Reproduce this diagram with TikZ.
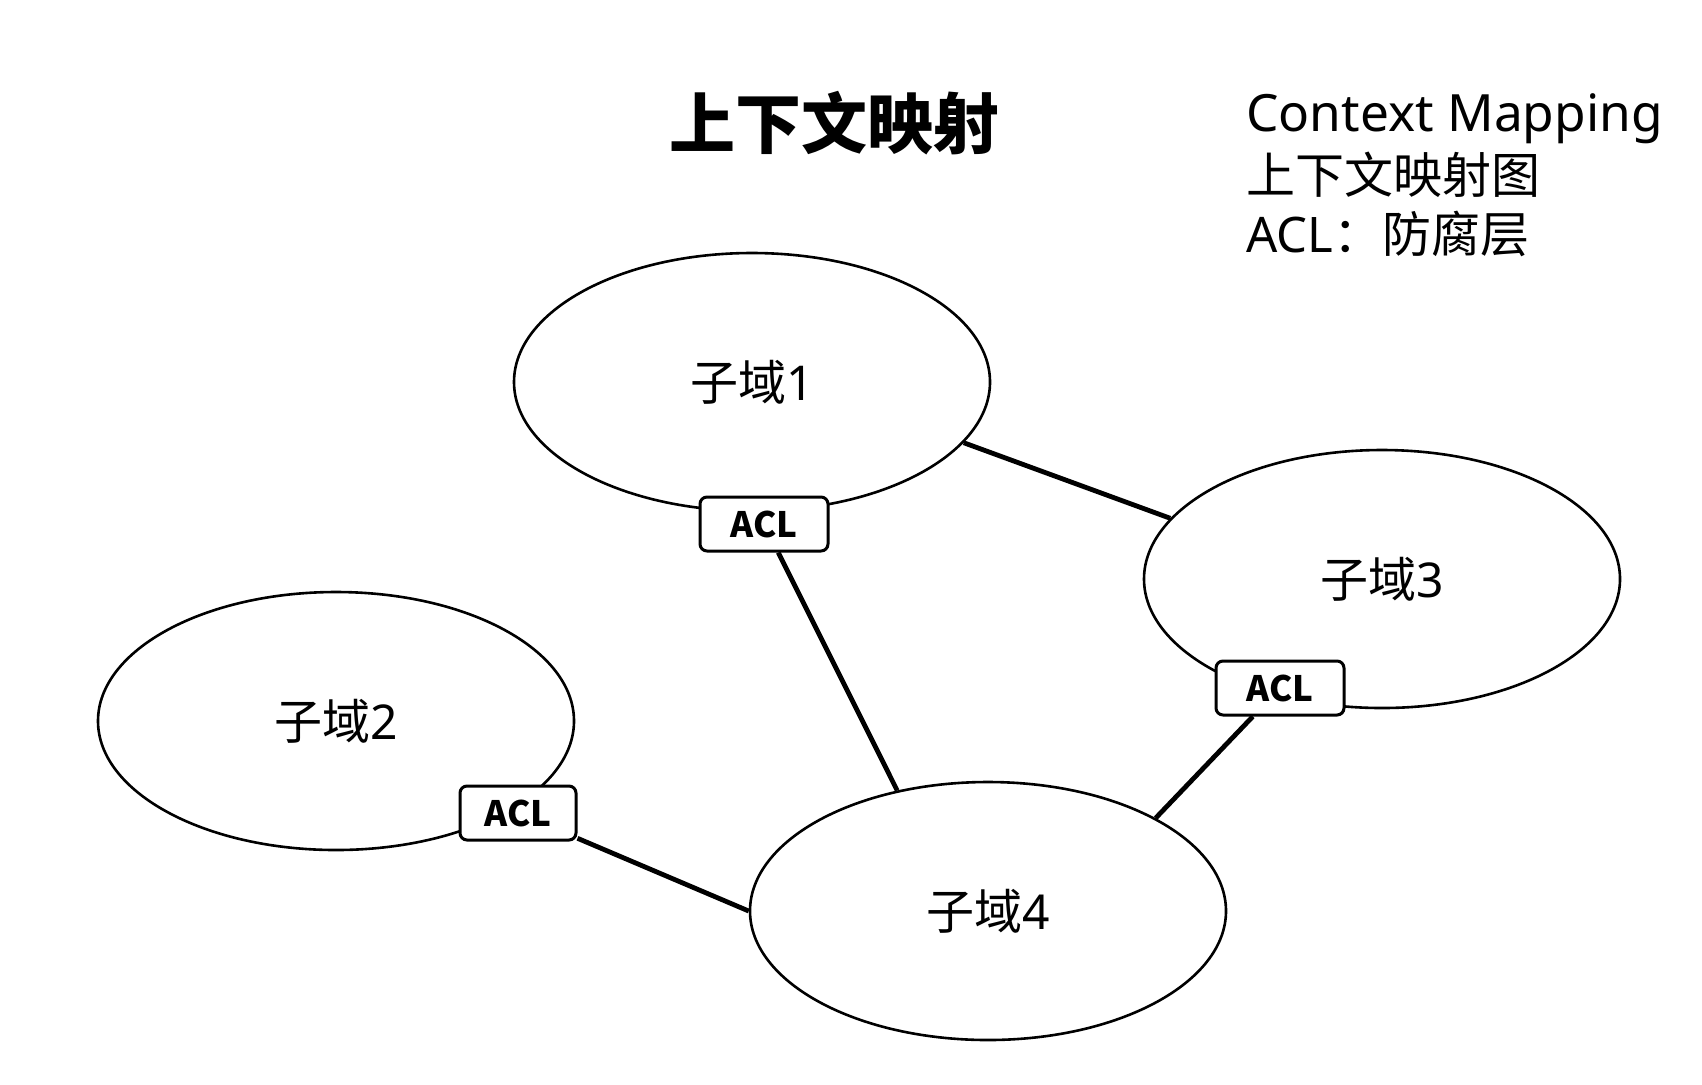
\documentclass[tikz,border=0pt]{standalone}
\usepackage{fontspec}
\setmainfont{Noto Sans}
\newfontfamily\cjk{Noto Sans CJK SC}
\usetikzlibrary{shapes.geometric}
\begin{document}
\begin{tikzpicture}[x=0.5pt,y=-0.5pt,
  dom/.style={draw,ellipse,line width=1.3pt,fill=white,minimum width=238pt,minimum height=129pt,inner sep=0pt,font=\fontsize{24}{28}\selectfont},
  acl/.style={draw,rounded corners=3.5pt,line width=1.5pt,fill=white,minimum height=27pt,inner sep=0pt,font=\fontsize{17.5}{20}\selectfont\cjk\bfseries},
  link/.style={line width=2.4pt}]
\useasboundingbox[fill=white] (0,0) rectangle (1702,1084);
% title and legend
\node[font=\fontsize{33}{38}\selectfont\bfseries\cjk] (title) at (834,123) {上下文映射};
\node[anchor=base west,inner sep=0pt,font=\fontsize{25.7}{30}\selectfont] (leg1) at (1246,131) {Context Mapping};
\node[anchor=base west,inner sep=0pt,font=\fontsize{24.5}{30}\selectfont\cjk] (leg2) at (1246,193) {上下文映射图};
\node[anchor=base west,inner sep=0pt,font=\fontsize{24.5}{30}\selectfont] (leg3) at (1246,252) {ACL{\cjk ：防腐层}};
% domains
\node[dom] (d1) at (752,382) {{\cjk 子域}1};
\node[dom] (d3) at (1382,579) {{\cjk 子域}3};
\node[dom] (d2) at (336,721) {{\cjk 子域}2};
\node[dom] (d4) at (988,911) {{\cjk 子域}4};
% connectors
\draw[link] (d1.-16) -- (d3.164);
% ACL boxes
\node[acl,minimum width=64pt] (a1) at (764,524) {ACL};
\node[acl,minimum width=64pt] (a3) at (1280,688) {ACL};
\node[acl,minimum width=58pt] (a2) at (518,813) {ACL};
\draw[link] (a1) -- (d4.127);
\draw[link] (a3) -- (d4.29);
\draw[link] (a2) -- (d4.west);
\end{tikzpicture}
\end{document}
